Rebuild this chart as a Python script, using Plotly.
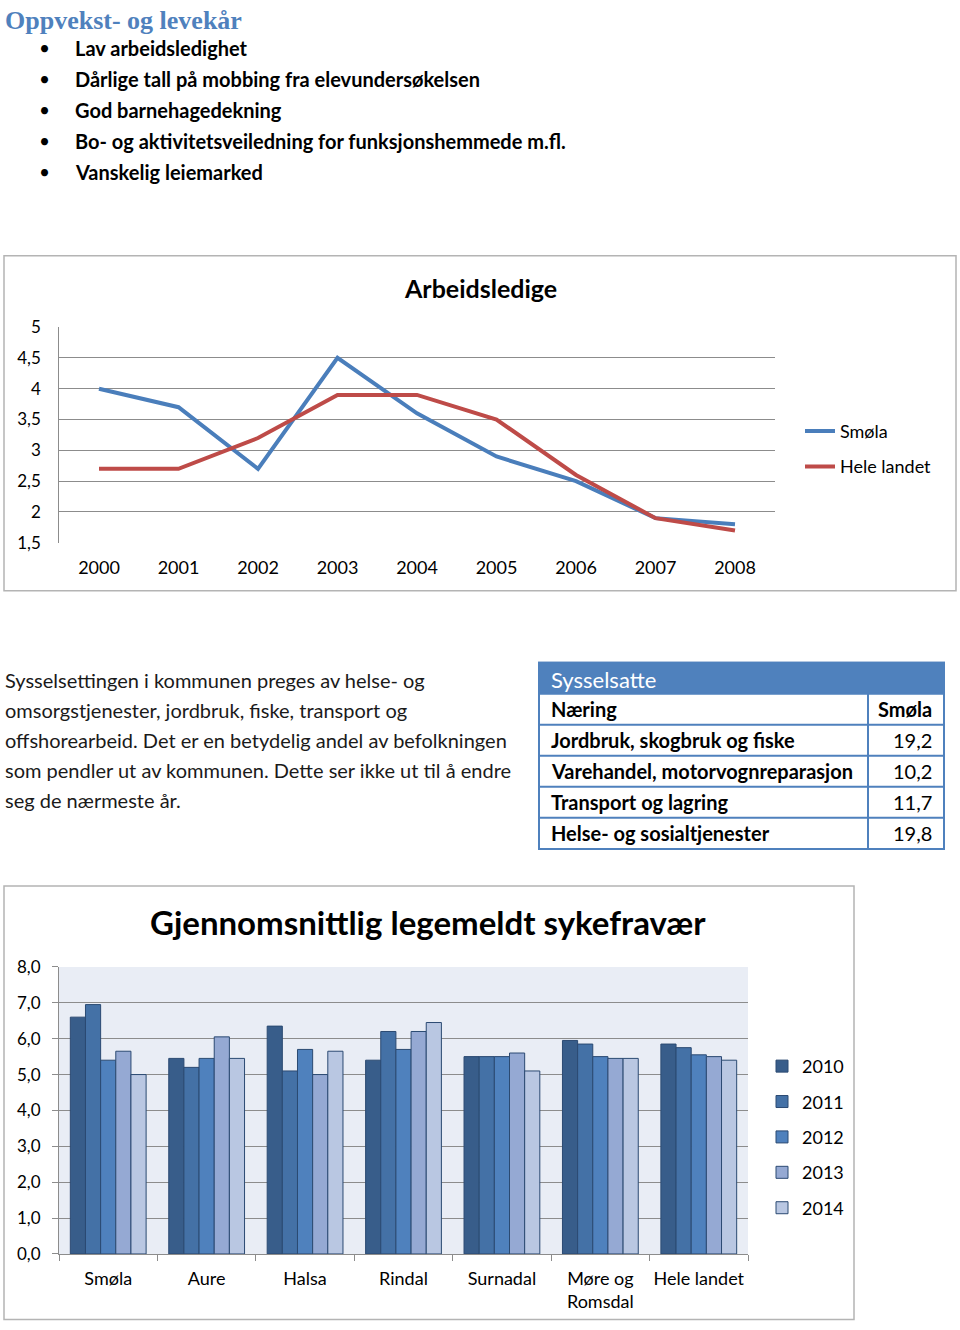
import plotly.graph_objects as go


# ==========================================
# DATA
# ==========================================

aar = ["2000", "2001", "2002", "2003", "2004", "2005", "2006", "2007", "2008"]
ledige_smola = [4.0, 3.7, 2.7, 4.5, 3.6, 2.9, 2.5, 1.9, 1.8]
ledige_landet = [2.7, 2.7, 3.2, 3.9, 3.9, 3.5, 2.6, 1.9, 1.7]

tabell_tittel = "Sysselsatte"
tabell_kolonner = ["Næring", "Smøla"]
naering = [
    "Jordbruk, skogbruk og fiske",
    "Varehandel, motorvognreparasjon",
    "Transport og lagring",
    "Helse- og sosialtjenester",
]
sysselsatte_smola = [19.2, 10.2, 11.7, 19.8]

steder = ["Smøla", "Aure", "Halsa", "Rindal", "Surnadal",
          "Møre og<br>Romsdal", "Hele landet"]
fravaer_aar = ["2010", "2011", "2012", "2013", "2014"]
fravaer_2010 = [6.6, 5.45, 6.35, 5.4, 5.5, 5.95, 5.85]
fravaer_2011 = [6.95, 5.2, 5.1, 6.2, 5.5, 5.85, 5.75]
fravaer_2012 = [5.4, 5.45, 5.7, 5.7, 5.5, 5.5, 5.55]
fravaer_2013 = [5.65, 6.05, 5.0, 6.2, 5.6, 5.45, 5.5]
fravaer_2014 = [5.0, 5.45, 5.65, 6.45, 5.1, 5.45, 5.4]

punkter = [
    "Lav arbeidsledighet",
    "Dårlige tall på mobbing fra elevundersøkelsen",
    "God barnehagedekning",
    "Bo- og aktivitetsveiledning for funksjonshemmede m.fl.",
    "Vanskelig leiemarked",
]

avsnitt = [
    "Sysselsettingen i kommunen preges av helse- og",
    "omsorgstjenester, jordbruk, fiske, transport og",
    "offshorearbeid. Det er en betydelig andel av befolkningen",
    "som pendler ut av kommunen. Dette ser ikke ut til å endre",
    "seg de nærmeste år.",
]


# ==========================================
# PAGE HELPERS
# ==========================================

W, H = 960, 1330
FONT = "Lato"
BLA = "#4f81bd"


def px_x(v):
    return v / W


def px_y(v):
    # the photo comes out slightly squeezed vertically, compensate
    v = (v - 11.3) / 0.984
    v = min(max(v, 0.5), H - 0.5)
    return 1 - v / H


fig = go.Figure()


# ==========================================
# LINE CHART - ARBEIDSLEDIGE
# ==========================================

fig.add_trace(go.Scatter(
    x=aar, y=ledige_smola, name="Smøla", mode="lines",
    line=dict(color="#4a7ebb", width=4),
    xaxis="x", yaxis="y", legend="legend", legendgroup="a"
))
fig.add_trace(go.Scatter(
    x=aar, y=ledige_landet, name="Hele landet", mode="lines",
    line=dict(color="#be4b48", width=4),
    xaxis="x", yaxis="y", legend="legend", legendgroup="b"
))


# ==========================================
# BAR CHART - SYKEFRAVAER
# ==========================================

bar_farger = ["#385d8a", "#4471a6", "#4f81bd", "#95a9d3", "#b9c7e2"]
serier = [fravaer_2010, fravaer_2011, fravaer_2012, fravaer_2013, fravaer_2014]

for navn, verdier, farge in zip(fravaer_aar, serier, bar_farger):
    fig.add_trace(go.Bar(
        x=steder, y=verdier, name=navn,
        marker=dict(color=farge, line=dict(color="#2b4a72", width=1)),
        xaxis="x2", yaxis="y2", legend="legend2", legendgroup=navn
    ))


# ==========================================
# TEXT
# ==========================================

notes = [
    dict(text="<b>Oppvekst- og levekår</b>", x=px_x(3), y=px_y(21),
         xanchor="left", font=dict(family="Liberation Serif", size=26, color=BLA)),
    dict(text="<b>Arbeidsledige</b>", x=px_x(480), y=px_y(288),
         xanchor="center", font=dict(family=FONT, size=25, color="black")),
    dict(text="<b>Gjennomsnittlig legemeldt sykefravær</b>", x=px_x(428), y=px_y(922),
         xanchor="center", font=dict(family=FONT, size=33, color="black")),
]

for i, p in enumerate(punkter):
    yy = 48 + i * 31
    notes.append(dict(text="•", x=px_x(44), y=px_y(yy), xanchor="center",
                      font=dict(family=FONT, size=19, color="black")))
    notes.append(dict(text="<b>" + p + "</b>", x=px_x(73), y=px_y(yy), xanchor="left",
                      font=dict(family=FONT, size=20, color="black")))

for i, linje in enumerate(avsnitt):
    notes.append(dict(text=linje, x=px_x(3), y=px_y(680 + i * 30), xanchor="left",
                      font=dict(family=FONT, size=20, color="#1a1a1a")))


# ==========================================
# TABLE - SYSSELSATTE (shapes + text)
# ==========================================

T_LEFT, T_RIGHT, T_DIV = 539, 944, 868
T_TOP, ROW_H = 663, 31
rader = [tabell_kolonner] + [
    [n, f"{v:.1f}".replace(".", ",")] for n, v in zip(naering, sysselsatte_smola)
]
T_BOTTOM = T_TOP + ROW_H * (len(rader) + 1)

tabell_shapes = [
    dict(type="rect", x0=px_x(T_LEFT), x1=px_x(T_RIGHT),
         y0=px_y(T_TOP + ROW_H), y1=px_y(T_TOP),
         fillcolor=BLA, line=dict(color=BLA, width=2)),
    dict(type="rect", x0=px_x(T_LEFT), x1=px_x(T_RIGHT),
         y0=px_y(T_BOTTOM), y1=px_y(T_TOP),
         line=dict(color=BLA, width=2)),
    dict(type="line", x0=px_x(T_DIV), x1=px_x(T_DIV),
         y0=px_y(T_BOTTOM), y1=px_y(T_TOP + ROW_H),
         line=dict(color=BLA, width=2)),
]

notes.append(dict(text=tabell_tittel, x=px_x(T_LEFT + 10), y=px_y(T_TOP + ROW_H / 2 + 1),
                  xanchor="left", font=dict(family=FONT, size=22, color="white")))

for i, (navn, verdi) in enumerate(rader):
    top = T_TOP + ROW_H * (i + 1)
    if i > 0:
        tabell_shapes.append(dict(type="line", x0=px_x(T_LEFT), x1=px_x(T_RIGHT),
                                  y0=px_y(top), y1=px_y(top),
                                  line=dict(color=BLA, width=2)))
    yc = px_y(top + ROW_H / 2)
    notes.append(dict(text="<b>" + navn + "</b>", x=px_x(T_LEFT + 10), y=yc,
                      xanchor="left", font=dict(family=FONT, size=20, color="black")))
    verdi_txt = "<b>" + verdi + "</b>" if i == 0 else verdi
    notes.append(dict(text=verdi_txt, x=px_x(T_RIGHT - 10), y=yc,
                      xanchor="right", font=dict(family=FONT, size=20, color="black")))

for n in notes:
    n.update(xref="paper", yref="paper", yanchor="middle", showarrow=False)

for s in tabell_shapes:
    s.update(xref="paper", yref="paper")


# ==========================================
# LAYOUT
# ==========================================

fig.update_layout(
    width=W, height=H,
    margin=dict(l=0, r=0, t=0, b=0),
    paper_bgcolor="white",
    plot_bgcolor="rgba(0,0,0,0)",
    separators=", ",
    font=dict(family=FONT, size=18, color="black"),
    barmode="group", bargap=0.23, bargroupgap=0,
    annotations=notes,
    xaxis=dict(
        domain=[px_x(59.25), px_x(774.75)], anchor="y",
        type="category", range=[-0.5, 8.5],
        showgrid=False, showline=False, ticks="",
        ticklabelstandoff=12, tickfont=dict(size=18)
    ),
    yaxis=dict(
        domain=[px_y(543), px_y(327.3)], anchor="x",
        range=[1.5, 5], dtick=0.5,
        gridcolor="#8c8c8c", gridwidth=1,
        showline=True, linecolor="#8c8c8c", linewidth=1,
        zeroline=False, ticks="", ticklabelstandoff=14,
        tickfont=dict(size=17)
    ),
    xaxis2=dict(
        domain=[px_x(59), px_x(748)], anchor="y2",
        type="category", tickson="boundaries", tickangle=0,
        ticks="outside", ticklen=6, tickcolor="#8c8c8c",
        showgrid=False, showline=True, linecolor="#8c8c8c",
        ticklabelstandoff=8, tickfont=dict(size=18)
    ),
    yaxis2=dict(
        domain=[px_y(1254), px_y(967)], anchor="x2",
        range=[0, 8], dtick=1, tickformat=".1f",
        gridcolor="#8c8c8c", gridwidth=1,
        showline=True, linecolor="#8c8c8c",
        zeroline=False, ticks="outside", ticklen=6, tickcolor="#8c8c8c",
        ticklabelstandoff=8, tickfont=dict(size=17)
    ),
    legend=dict(
        x=px_x(800), y=px_y(413), xanchor="left", yanchor="top",
        traceorder="grouped", tracegroupgap=9,
        font=dict(size=18), bgcolor="rgba(0,0,0,0)"
    ),
    legend2=dict(
        x=px_x(762), y=px_y(1048), xanchor="left", yanchor="top",
        traceorder="grouped", tracegroupgap=9,
        font=dict(size=18), bgcolor="rgba(0,0,0,0)"
    ),
    shapes=[
        dict(type="rect", xref="paper", yref="paper",
             x0=px_x(4), x1=px_x(956), y0=px_y(591), y1=px_y(256),
             line=dict(color="#b4b4b4", width=1.5)),
        dict(type="rect", xref="paper", yref="paper",
             x0=px_x(4), x1=px_x(854), y0=px_y(1327), y1=px_y(886),
             line=dict(color="#b4b4b4", width=1.5)),
        dict(type="rect", xref="x2 domain", yref="y2 domain",
             x0=0, x1=1, y0=0, y1=1, layer="below",
             fillcolor="#e9edf5", line=dict(width=0)),
    ] + tabell_shapes,
)

# pin the figure to the top-left corner of the page (no body margin)
pin = (
    "document.body.style.margin='0';"
    "document.body.style.overflow='hidden';"
    "var g=document.getElementById('{plot_id}');"
    "g.style.position='fixed';g.style.left='0';g.style.top='0';"
)

fig.write_html("out.html", post_script=pin, config={"displayModeBar": False})
